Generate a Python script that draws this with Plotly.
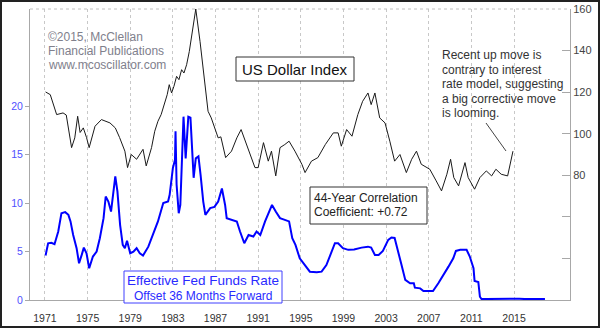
import plotly.graph_objects as go

# ---------------- data ----------------
usd_years = [1971.06, 1971.5, 1972.1, 1972.7, 1973.0, 1973.5, 1973.8, 1974.07, 1974.3, 1974.6,
             1974.9, 1975.15, 1975.7, 1976.3, 1977.1, 1977.6, 1978.0, 1978.5, 1978.75, 1979.1,
             1979.6, 1980.2, 1980.5, 1981.0, 1981.3, 1981.6, 1981.9, 1982.47, 1982.66, 1982.88,
             1983.1, 1983.35, 1983.57, 1983.82, 1984.04, 1984.29, 1984.54, 1984.76, 1985.15, 1985.55,
             1986.0, 1986.3, 1986.6, 1987.25, 1987.5, 1987.95,
             1988.5, 1989.0, 1989.4, 1989.9, 1990.7, 1991.0, 1991.5, 1991.95, 1992.25, 1992.65,
             1993.05, 1993.5, 1993.9, 1994.45, 1995.1, 1995.4, 1996.0, 1996.6, 1997.3, 1998.05,
             1998.5, 1998.8, 1999.3, 1999.8, 2000.35, 2000.8, 2001.3, 2001.6, 2001.95, 2002.4,
             2002.9, 2003.35, 2003.8, 2004.3, 2004.9, 2005.4, 2005.85, 2006.3, 2007.1, 2007.7,
             2008.2, 2008.7, 2009.05, 2009.35, 2009.8, 2010.4, 2010.7, 2011.3, 2011.8, 2012.4,
             2012.9, 2013.3, 2013.8, 2014.4, 2014.9]
usd_values = [120.1, 118.8, 109.2, 110.0, 109.0, 93.3, 98.0, 108.4, 100.6, 102.8,
              98.2, 93.3, 103.6, 106.8, 105.2, 102.8, 98.2, 91.6, 83.7, 90.0,
              87.7, 92.5, 84.5, 93.3, 101.2, 106.0, 109.2, 118.8, 123.6, 119.6,
              122.8, 127.6, 126.0, 130.8, 129.2, 133.2, 139.5, 146.7, 160.0, 144.3,
              123.2, 110.8, 107.6, 98.0, 98.5, 88.5,
              91.6, 98.0, 102.0, 94.8, 83.7, 83.7, 95.7, 86.8, 91.6, 79.7,
              93.3, 94.8, 96.4, 91.6, 85.3, 81.3, 86.8, 88.5, 94.8, 100.4,
              100.4, 94.0, 102.0, 98.8, 109.2, 115.6, 119.6, 114.0, 119.6, 107.6,
              105.2, 96.4, 86.8, 90.0, 81.3, 87.7, 91.6, 85.3, 82.9, 77.3,
              72.5, 80.5, 87.7, 78.9, 74.9, 86.1, 78.9, 73.3, 78.9, 82.1,
              79.7, 82.9, 80.5, 79.7, 91.6]

fed_years = [1971.06, 1971.3, 1971.6, 1971.9, 1972.25, 1972.55, 1972.9, 1973.2, 1973.4, 1973.65,
             1973.97, 1974.2, 1974.45, 1974.65, 1974.9, 1975.15, 1975.5, 1975.85, 1976.15, 1976.5,
             1976.7, 1976.95, 1977.2, 1977.4, 1977.6, 1977.8, 1978.05, 1978.3, 1978.5, 1978.7,
             1979.0, 1979.3, 1979.6, 1979.9, 1980.2, 1980.7, 1981.15, 1981.6, 1982.1, 1982.55,
             1982.7, 1983.0, 1983.2, 1983.25, 1983.35, 1983.55, 1983.7, 1983.9, 1984.0, 1984.2,
             1984.45, 1984.65, 1984.8, 1984.95, 1985.15, 1985.4, 1985.6, 1985.85, 1986.05, 1986.5,
             1986.9, 1987.25, 1987.6, 1987.9, 1988.05, 1988.5, 1989.0, 1989.3, 1989.7, 1990.1,
             1990.55, 1990.85, 1991.2, 1991.65, 1992.0, 1992.3, 1992.65, 1993.05, 1993.5, 1993.9,
             1994.2, 1994.5, 1994.9, 1995.4, 1995.85, 1996.5, 1996.95, 1997.4, 1997.8, 1998.2,
             1998.5, 1998.95, 1999.45, 2000.0, 2000.7, 2001.3, 2001.6, 2001.95, 2002.3, 2002.7,
             2003.2, 2003.5, 2003.8, 2004.15, 2004.45, 2004.8, 2005.25, 2005.6, 2005.7, 2006.2,
             2006.5, 2006.95, 2007.4, 2007.9, 2008.4, 2008.85, 2009.3, 2009.55, 2009.95, 2010.55,
             2010.85, 2011.2, 2011.3, 2011.65, 2011.8, 2011.95, 2012.4, 2013.0, 2013.5, 2014.0,
             2014.5, 2015.0, 2015.5, 2016.0, 2016.5, 2017.0, 2017.5, 2017.9]
fed_values = [4.58, 5.85, 5.9, 5.75, 7.06, 8.95, 9.06, 8.78, 8.1, 6.7,
              5.34, 3.79, 4.65, 5.4, 4.82, 3.27, 4.48, 4.99, 6.37, 8.44,
              10.67, 10.15, 9.12, 11.2, 12.74, 11.2, 7.75, 5.68, 5.34, 6.1,
              4.82, 4.99, 5.34, 4.82, 4.58, 5.5, 6.7, 8.1, 10.0, 10.15,
              10.85, 13.6, 14.46, 17.4, 11.9, 8.95, 9.8, 16.0, 18.9, 14.6,
              18.9, 18.8, 15.7, 12.6, 14.6, 14.8, 12.9, 10.15, 8.78, 9.47,
              9.6, 10.15, 11.5, 9.8, 8.44, 8.26, 8.1, 7.06, 5.85, 6.7,
              6.54, 7.06, 6.7, 8.1, 9.12, 9.8, 9.12, 8.44, 8.26, 8.1,
              6.37, 5.68, 4.3, 3.6, 2.92, 2.86, 2.92, 3.6, 4.82, 5.85,
              5.85, 5.34, 5.17, 5.2, 5.4, 5.5, 5.4, 4.65, 4.65, 5.06,
              6.2, 6.44, 6.4, 4.99, 3.6, 2.07, 1.72, 1.72, 1.27, 1.2,
              0.93, 0.93, 0.93, 1.72, 2.58, 3.44, 4.3, 5.06, 5.17, 5.17,
              4.48, 3.27, 1.96, 1.86, 0.34, 0.1, 0.1, 0.12, 0.1, 0.1,
              0.12, 0.14, 0.13, 0.1, 0.1, 0.1, 0.1, 0.1]

x_ticks = [1971, 1975, 1979, 1983, 1987, 1991, 1995, 1999, 2003, 2007, 2011, 2015]
left_ticks = [0, 5, 10, 15, 20]
right_ticks = [40, 60, 80, 100, 120, 140, 160]
right_ticktext = ["", "", "80", "100", "120", "140", "160"]

# ---------------- layout helpers ----------------
W, H = 600, 328
ML, MR, MT, MB = 30, 30, 9, 28
PW, PH = W - ML - MR, H - MT - MB
FONT = "Liberation Sans, Arial, sans-serif"


def px(x):
    return (x - ML) / PW


def py(y):
    return (H - MB - y) / PH


fig = go.Figure()
fig.add_trace(go.Scatter(x=fed_years, y=fed_values, mode="lines",
                         line=dict(color="#0000ff", width=2), yaxis="y", hoverinfo="skip"))
fig.add_trace(go.Scatter(x=usd_years, y=usd_values, mode="lines",
                         line=dict(color="#1a1a1a", width=1), yaxis="y2", hoverinfo="skip"))

shapes = []
shapes.append(dict(type="line", xref="paper", yref="paper", x0=0, x1=1, y0=1, y1=1,
                   line=dict(color="#c0c0c0", width=1, dash="dot")))
shapes.append(dict(type="rect", xref="paper", yref="paper", x0=px(236), x1=px(354), y0=py(81), y1=py(57),
                   line=dict(color="#333333", width=1), fillcolor="white"))
shapes.append(dict(type="rect", xref="paper", yref="paper", x0=px(310), x1=px(427), y0=py(224), y1=py(187),
                   line=dict(color="#333333", width=1), fillcolor="white"))
shapes.append(dict(type="rect", xref="paper", yref="paper", x0=px(124), x1=px(282), y0=py(303), y1=py(271),
                   line=dict(color="#4040ff", width=1), fillcolor="white"))
shapes.append(dict(type="line", xref="paper", yref="paper", x0=px(486), x1=px(506), y0=py(123), y1=py(151),
                   line=dict(color="#444444", width=1)))
shapes.append(dict(type="rect", xref="paper", yref="paper", x0=px(1), x1=px(599), y0=py(327), y1=py(1),
                   line=dict(color="#222222", width=2), fillcolor="rgba(0,0,0,0)"))

ann = []


def text(t, x, y, size, color, xanchor="left"):
    ann.append(dict(text=t, xref="paper", yref="paper", x=px(x), y=py(y), xanchor=xanchor,
                    yanchor="middle", showarrow=False, font=dict(family=FONT, size=size, color=color)))


for i, t in enumerate(["©2015, McClellan", "Financial Publications", "www.mcoscillator.com"]):
    text(t, 46, 37 + i * 14, 12, "#80808c")
text("US Dollar Index", 295, 69, 15, "#111111", "center")
text("44-Year Correlation", 312, 198, 12, "#222222")
text("Coefficient: +0.72", 312, 212, 12, "#222222")
text("Effective Fed Funds Rate", 203, 280, 13.5, "#2a2aff", "center")
text("Offset 36 Months Forward", 203, 296, 12, "#2a2aff", "center")
for i, t in enumerate(["Recent up move is", "contrary to interest", "rate model, suggesting",
                       "a big corrective move", "is looming."]):
    text(t, 440, 55 + i * 14.5, 12, "#333333")

fig.update_layout(
    width=W, height=H, margin=dict(l=ML, r=MR, t=MT, b=MB, autoexpand=False),
    paper_bgcolor="white", plot_bgcolor="white", showlegend=False,
    font=dict(family=FONT),
    xaxis=dict(range=[1969.6, 2020.25], tickvals=x_ticks, showgrid=True, gridcolor="#c8c8c8",
               griddash="dot", gridwidth=1, showline=True, linecolor="#a8a8a8", linewidth=1,
               ticks="outside", ticklen=8, tickcolor="rgba(0,0,0,0)", zeroline=False,
               automargin=False,
               tickfont=dict(size=10.5, color="#333333", family=FONT)),
    yaxis=dict(range=[0, 30], tickvals=left_ticks, showgrid=False, zeroline=False,
               showline=True, linecolor="#a8a8a8", linewidth=1, ticks="outside", ticklen=4,
               automargin=False,
               tickcolor="#a8a8a8", tickfont=dict(size=10.5, color="#5050ff", family=FONT)),
    yaxis2=dict(range=[20, 160], tickvals=right_ticks, ticktext=right_ticktext, overlaying="y",
                side="right", showgrid=False, zeroline=False, showline=True, linecolor="#a8a8a8",
                linewidth=1, ticks="inside", ticklen=8, tickcolor="#a8a8a8", automargin=False,
                tickfont=dict(size=11, color="#444444", family=FONT)),
    shapes=shapes, annotations=ann,
)

fig.write_html("out.html")
